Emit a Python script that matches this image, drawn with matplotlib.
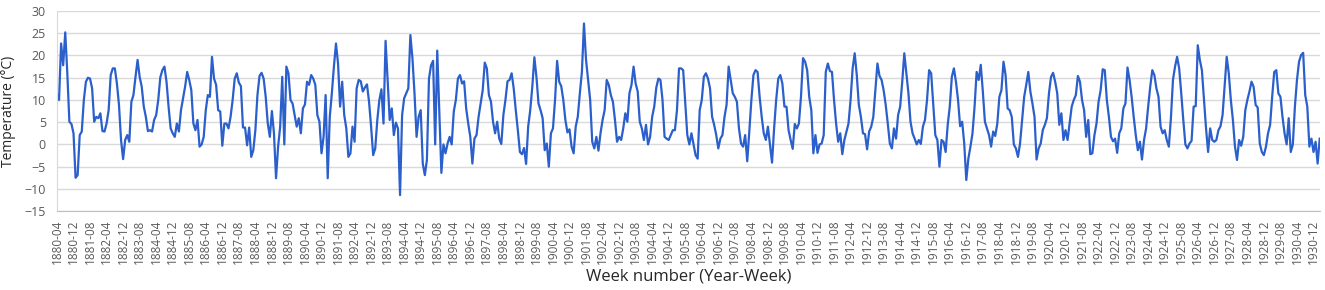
import numpy as np
import pandas as pd
import matplotlib
matplotlib.use("Agg")
import matplotlib.pyplot as plt

# monthly temperatures, first value is 1880-04
temps_1880s = [
    11.3, 10, 22.7, 17.8, 25.2, 16, 5.1, 4.6, 2.5, -7.5, -6.9, 2.1,
    2.9, 10, 14.1, 15, 14.8, 12.6, 5.1, 6.2, 5.9, 7, 3, 2.9,
    4.7, 7.7, 15.6, 17.1, 17.1, 13.7, 8.9, 1, -3.3, 1, 2.1, 0.6,
    9.6, 11.1, 15.2, 19, 15.2, 13, 8.5, 6.2, 3, 3.2, 2.9, 5.5,
    6.6, 10, 15.1, 16.7, 17.5, 14.1, 8.5, 3.6, 2.5, 1.7, 4.7, 2.9,
    7.7, 10.4, 13, 16.3, 14.5, 12.2, 4.7, 3.2, 5.5, -0.5, 0, 1.7,
    7.7, 11.1, 10.7, 19.7, 14.8, 13.4, 7.7, 7.4, -0.3, 4.7, 4.7, 3.6,
    6.2, 10, 14.8, 16, 13.9, 13.1, 3.8, 3.8, -0.2, 3.8, -2.8, -1.3,
    3.2, 11.1, 15.4, 16.1, 14.8, 10.7, 4.7, 1.7, 7.5, 2.5, -7.6, -0.5,
    4, 15.2, 0, 17.5, 16, 10, 9.2, 6.6, 4, 5.9, 2.5, 8.1,
]
temps_1890s = [
    9, 14.1, 13.4, 15.6, 14.8, 13.4, 6.6, 5.1, -2, 1.7, 11.1, -7.6,
    6.2, 11.5, 17.5, 22.7, 18.2, 8.5, 14.1, 6.6, 3.6, -2.8, -2, 4,
    0.6, 12.6, 14.5, 14.2, 11.9, 12.8, 13.5, 9.6, 4, -2.4, -0.9, 5.5,
    10, 12.4, 4.7, 23.3, 14.5, 5.5, 8.1, 2.1, 4.9, 3.6, -11.4, 6.6,
    10.4, 11.5, 12.6, 24.6, 19.4, 11.5, 1.7, 6.2, 7.7, -4.3, -6.9, -3.5,
    14.8, 17.8, 18.8, 0, 21.1, 7.7, -6.4, 0, -2, 0.2, 1.7, 0,
    7.4, 10, 14.8, 15.6, 13.7, 14.2, 8.1, 4.7, 1.7, -4.3, 1.3, 2.1,
    6.2, 9.2, 12.2, 18.4, 17.1, 11.1, 9.6, 5.1, 2.5, 5.1, 1.3, 0.1,
    6.6, 10, 14.2, 14.5, 16, 12.6, 7.7, 3.2, -1.7, -2.2, -0.8, -4.4,
    4, 7.7, 13, 19.6, 15.2, 9.2, 7.7, 5.9, -1.3, 0.2, -5, 2.5,
]
temps_1900s = [
    3.6, 10, 18.8, 14.1, 13.1, 10, 5.5, 2.7, 3.4, -0.5, -2, 4,
    6.2, 11.5, 16.3, 27.2, 19, 14.5, 10, 0.6, -0.9, 1.7, -1.4, 2.5,
    5.5, 7.7, 14.5, 13.4, 11.1, 9.6, 5.5, 0.6, 1.7, 1, 3.6, 7,
    5.1, 11.5, 13.4, 17.5, 13.7, 11.9, 5.1, 3.6, 1, 4.4, 0, 1.7,
    6.2, 8.5, 12.8, 14.8, 14.5, 10, 1.7, 1.3, 1, 2.1, 3.2, 3.2,
    7.7, 17.1, 17.1, 16.7, 9.2, 2.1, 0, 2.5, 0, -2.4, -3.2, 7.7,
    10, 15.2, 16, 14.8, 12.6, 6.2, 4.4, 2.1, -0.9, 1.3, 2.1, 6.2,
    8.9, 17.5, 14.5, 11.5, 10.7, 9.6, 3.6, 0.2, -0.5, 2.1, -3.8, 2.9,
    10, 15.6, 16.7, 16.3, 10.7, 6.2, 2.5, 1, 4, 0, -4.1, 3.6,
    10, 14.8, 15.6, 13.7, 8.5, 8.5, 3.2, 1, -1, 4.6, 3.6, 4.7,
]
temps_1910s = [
    10.7, 19.4, 18.6, 16.7, 10.7, 7.7, -2, 2.1, -1.9, 0, 0.2, 2.1,
    16.3, 18.2, 16.5, 16.3, 10, 4.7, 0.6, 2.5, -2.2, 1, 2.9, 4.7,
    10, 17.1, 20.5, 15.6, 8.9, 6.2, 2.5, 2.3, -1.1, 2.9, 4, 6.2,
    12.2, 18.2, 15.4, 14.5, 12.2, 8.9, 4.7, 0.2, -0.9, 3.6, 1.3, 6.6,
    8.5, 14.1, 20.5, 16, 11.5, 5.1, 2.5, 1.3, 0, 1, 0.1, 4,
    5.5, 10, 16.7, 16, 9.2, 2.1, 1, -5, 1, 0.6, -1.7, 4.4,
    8.5, 15.2, 17.1, 14.1, 10, 4.1, 5.1, 0.2, -8, -3.2, -0.5, 2.5,
    8.5, 16.3, 14.5, 17.9, 11.9, 5.1, 3.6, 2.1, -0.5, 2.9, 1.9, 4.7,
    10.7, 12.2, 18.6, 15.6, 8.1, 7.7, 6.2, 0, -0.9, -2.8, 0.2, 5.5,
    10.7, 13.4, 16.3, 11.9, 9.2, 6.2, -3.4, -0.9, 0.2, 3.2, 4.4, 5.9,
]
temps_1920s = [
    11.5, 15.2, 16.1, 14.1, 11.5, 4.4, 7, 1, 3.2, 1, 4.7, 8.5,
    10, 11.1, 15.4, 14.1, 10, 7.7, 1.7, 5.5, -2.2, -2, 2.1, 4.7,
    9.6, 12.2, 16.9, 16.7, 10, 6.2, 1.7, 0.7, 1.3, -1.9, 2.5, 3.6,
    8.1, 9.2, 17.3, 14.5, 10.7, 6.2, 2.1, -1.3, 0.6, -3.4, 1, 3.6,
    8.5, 13, 16.7, 15.6, 12.6, 10.7, 4, 2.5, 3.2, 1, -0.5, 5.9,
    14.5, 17.5, 19.7, 17.1, 11.5, 5.5, 0, -0.9, 0.2, 0.8, 8.5, 8.6,
    22.3, 19, 16.7, 10, 3.6, -1.7, 3.6, 1, 0.6, 1, 3.2, 4.1,
    6.6, 13, 19.7, 16, 10, 5.5, -0.5, -3.5, 1, -0.3, 1.7, 7.7,
    10, 11.9, 14.1, 13, 8.9, 8.3, 0.2, -1.7, -2.4, -0.5, 2.5, 4.4,
    10.7, 16.3, 16.7, 11.5, 10.7, 6.2, 2.5, 0, 5.9, -1.7, 0, 8.5,
    14.5, 18.6, 20.1, 20.6, 11.1, 8.5, -0.5, 1.3, -1.7, 0.6, -4.3, 1.3,
]

temps = temps_1880s + temps_1890s + temps_1900s + temps_1910s + temps_1920s
months = pd.period_range("1880-04", periods=len(temps), freq="M").strftime("%Y-%m")
y_ticks = list(range(-15, 31, 5))

text_col = "#595959"
plt.rcParams["font.family"] = ["Open Sans", "DejaVu Sans"]

fig = plt.figure(figsize=(13.25, 2.9), dpi=100)
ax = fig.add_axes([0.043, 0.272, 0.953, 0.690])

x = np.arange(len(temps))
ax.plot(x, temps, color="#2B5FCB", lw=1.6, solid_joinstyle="round")

ax.set_xlim(0, len(temps) - 1)
ax.set_ylim(-15, 30)
ax.set_yticks(y_ticks)
ax.set_xticks(x[::8])
ax.set_xticklabels(months[::8], rotation=90, fontsize=8.5, color=text_col)
ax.tick_params(axis="y", length=0, pad=8, labelsize=9, labelcolor=text_col)
ax.tick_params(axis="x", length=0, pad=6)

ax.grid(axis="y", color="#d9d9d9", lw=1)
ax.set_axisbelow(True)
for s in ["top", "right"]:
    ax.spines[s].set_visible(False)
ax.spines["left"].set_color("#d9d9d9")
ax.spines["bottom"].set_color("#bfbfbf")

ax.set_ylabel("Temperature (°C)", fontsize=10, color="#262626", labelpad=6)
ax.set_xlabel("Week number (Year-Week)", fontsize=12, color="#262626", labelpad=3)

fig.savefig("out.png", dpi=100)
